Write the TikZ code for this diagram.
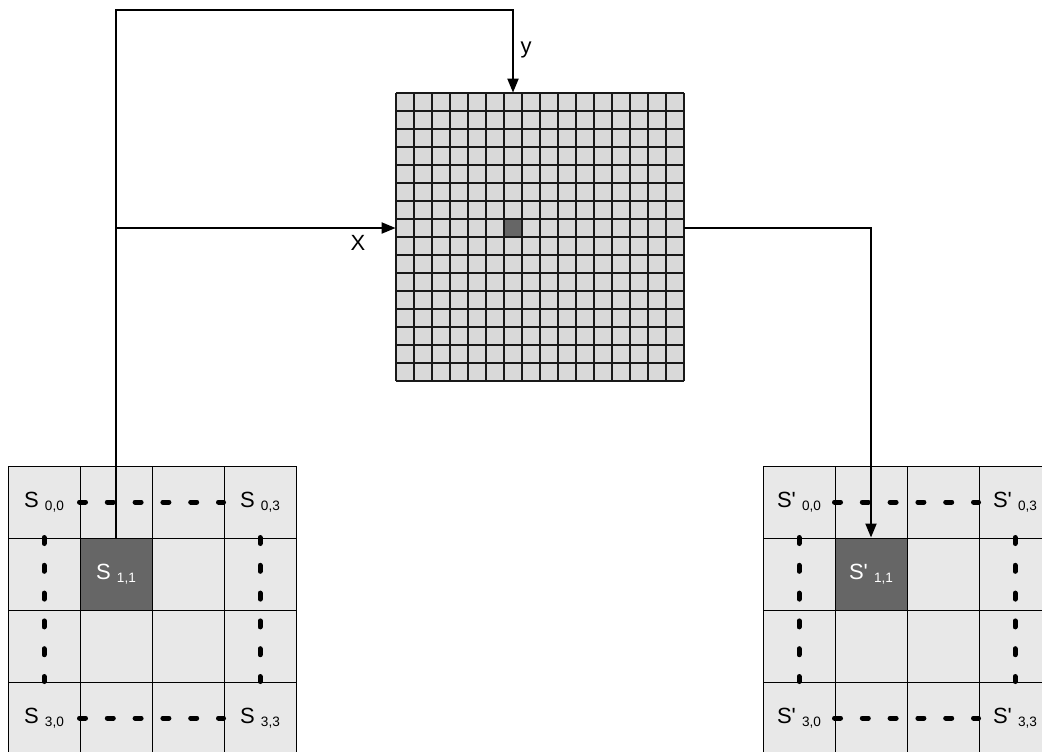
\documentclass[tikz,border=0pt]{standalone}
\usepackage{fontspec}
\setmainfont{Liberation Sans}[Ligatures=TeXOff]
\usetikzlibrary{positioning, arrows.meta, calc}
\definecolor{cellgray}{HTML}{E8E8E8}
\definecolor{lutgray}{HTML}{D9D9D9}
\definecolor{hotgray}{HTML}{666666}
\newcommand{\sname}[2]{#1\ \raisebox{-1.6pt}{\fontsize{6.8}{7}\selectfont #2}}

\begin{document}
\begin{tikzpicture}[x=0.5pt, y=-0.5pt,
        every node/.style={font=\fontsize{11}{13}\selectfont},
        cell/.style={rectangle, draw, line width=0.5pt, fill=cellgray, minimum size=36pt, inner sep=0pt},
        hot/.style={cell, fill=hotgray, text=white},
        lutline/.style={line width=1.1pt, black!90},
        arrow/.style={-{Triangle[length=7pt,width=5.5pt]}, line width=1pt},
        dots/.style={line width=2.5pt, line cap=round, dash pattern=on 3pt off 10.9pt}
    ]
        \useasboundingbox (0,0) rectangle (1042,751);

        % Lookup grid
        \node[rectangle, fill=lutgray, minimum size=144pt, inner sep=0pt] (lut) at (540,237) {};
        \foreach \i in {0,...,16} {
            \draw[lutline] (396+18*\i,93) -- (396+18*\i,381);
            \draw[lutline] (396,93+18*\i) -- (684,93+18*\i);
        }
        \node[rectangle, draw=black!90, line width=1.1pt, fill=hotgray, minimum size=9pt, inner sep=0pt] (pix) at (513,228) {};

        % Source and target blocks
        \foreach \r in {0,...,3}
            \foreach \c in {0,...,3} {
                \node[cell] (L-\r-\c) at (44+72*\c, 502+72*\r) {};
                \node[cell] (R-\r-\c) at (799+72*\c, 502+72*\r) {};
            }
        \foreach \r/\c in {0/0, 0/3, 3/0, 3/3} {
            \node[cell] (L-\r-\c) at (44+72*\c, 502+72*\r) {\sname{S}{\r,\c}};
            \node[cell] (R-\r-\c) at (799+72*\c, 502+72*\r) {\sname{S'}{\r,\c}};
        }
        \node[hot] (L-1-1) at (116,574) {\sname{S}{1,1}};
        \node[hot] (R-1-1) at (871,574) {\sname{S'}{1,1}};

        % Elided cells
        \foreach \g in {L, R} {
            \draw[dots] (\g-0-1.west) -- (\g-0-3.west);
            \draw[dots] (\g-3-1.west) -- (\g-3-3.west);
            \draw[dots] (\g-1-0.north) -- (\g-3-0.north);
            \draw[dots] (\g-1-3.north) -- (\g-3-3.north);
        }

        % Index lines
        \coordinate (ybend) at (116,10);
        \draw[arrow] (L-1-1.north) -- (ybend) -| (pix |- lut.north);
        \draw[arrow] (ybend |- pix) -- (lut.west |- pix);
        \draw[arrow] (lut.east |- pix) -| (R-1-1.north);
        \node (ylab) at (526,50) {y};
        \node (xlab) at (358,243) {X};
    \end{tikzpicture}
\end{document}
